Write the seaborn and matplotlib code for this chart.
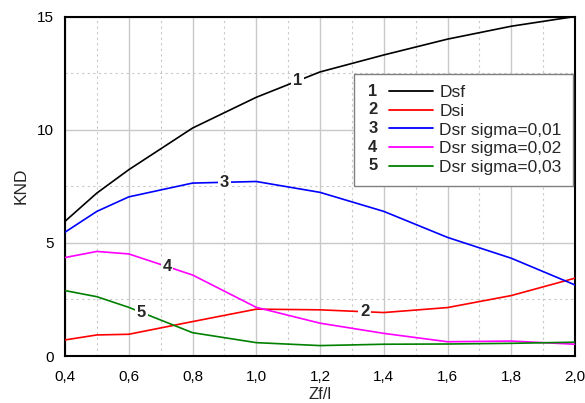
import matplotlib
matplotlib.use("Agg")
import matplotlib.pyplot as plt
from matplotlib.lines import Line2D
from matplotlib.text import Text
from matplotlib.legend_handler import HandlerLine2D
from matplotlib.ticker import MultipleLocator, FuncFormatter
import seaborn as sns
import pandas as pd
import numpy as np

# ---- data ----
x_values = [0.4, 0.5, 0.6, 0.8, 1.0, 1.2, 1.4, 1.6, 1.8, 2.0]
dsf = [5.95, 7.2, 8.23, 10.07, 11.43, 12.55, 13.3, 14.0, 14.57, 15.0]
dsi = [0.71, 0.93, 0.96, 1.52, 2.07, 2.04, 1.92, 2.14, 2.67, 3.44]
dsr_001 = [5.47, 6.39, 7.03, 7.64, 7.71, 7.23, 6.39, 5.24, 4.32, 3.14]
dsr_002 = [4.35, 4.62, 4.51, 3.58, 2.15, 1.45, 1.0, 0.63, 0.66, 0.52]
dsr_003 = [2.89, 2.62, 2.15, 1.03, 0.59, 0.46, 0.52, 0.53, 0.56, 0.61]

series_names = ["Dsf", "Dsi", "Dsr sigma=0,01", "Dsr sigma=0,02", "Dsr sigma=0,03"]
series_numbers = ["1", "2", "3", "4", "5"]
series_colors = ["#000000", "#ff0000", "#0000ff", "#ff00ff", "#008000"]
label_x = [1.13, 1.34, 0.90, 0.72, 0.64]

x_label = "Zf/l"
y_label = "KND"

all_series = [dsf, dsi, dsr_001, dsr_002, dsr_003]
rows = []
for name, ys in zip(series_names, all_series):
    for xv, yv in zip(x_values, ys):
        rows.append({"x": xv, "y": yv, "series": name})
df = pd.DataFrame(rows)

sns.set_style("white")
plt.rcParams["font.family"] = ["Liberation Sans", "DejaVu Sans"]

fig = plt.figure(figsize=(5.85, 4.03), dpi=100)
ax = fig.add_axes([65 / 585, 47 / 403, 510 / 585, 339.5 / 403])

palette = dict(zip(series_names, series_colors))
sns.lineplot(data=df, x="x", y="y", hue="series", palette=palette,
             hue_order=series_names, sort=False, legend=False,
             linewidth=1.2, ax=ax, zorder=3)

ax.set_xlim(0.4, 2.0)
ax.set_ylim(0, 15)
ax.xaxis.set_major_locator(MultipleLocator(0.2))
ax.xaxis.set_minor_locator(MultipleLocator(0.1))
ax.yaxis.set_major_locator(MultipleLocator(5))
ax.yaxis.set_minor_locator(MultipleLocator(2.5))
ax.xaxis.set_major_formatter(FuncFormatter(lambda v, p: f"{v:.1f}".replace(".", ",")))
ax.yaxis.set_major_formatter(FuncFormatter(lambda v, p: f"{v:.0f}"))

ax.grid(which="major", color="#c8c8c8", linewidth=1.0, linestyle="-", zorder=0)
ax.grid(which="minor", color="#c8c8c8", linewidth=0.8, linestyle=(0, (2, 3)), zorder=0)
ax.set_axisbelow(True)

for s in ax.spines.values():
    s.set_visible(True)
    s.set_color("black")
    s.set_linewidth(1.5)

ax.tick_params(axis="both", which="major", direction="out", length=5, width=1.3,
               labelsize=11, colors="black", pad=3)
ax.tick_params(axis="both", which="minor", direction="out", length=4, width=1.1)
ax.tick_params(axis="x", pad=5)

ax.set_xlabel(x_label, fontsize=12, labelpad=2)
ax.set_ylabel(y_label, fontsize=12.5, labelpad=6)

# inline labels
for num, ys, lx in zip(series_numbers, all_series, label_x):
    ly = float(np.interp(lx, x_values, ys))
    ax.text(lx, ly, num, fontsize=12, fontweight="bold", ha="center", va="center",
            zorder=5, bbox=dict(facecolor="white", edgecolor="none", pad=1.2))


class NumHandler(HandlerLine2D):
    def __init__(self, num, **kw):
        super().__init__(**kw)
        self.num = num

    def create_artists(self, legend, orig_handle, xdescent, ydescent, width,
                       height, fontsize, trans):
        yc = height / 2.0 - ydescent
        x0 = -xdescent
        line = Line2D([x0 + width * 0.34, x0 + width], [yc, yc],
                      color=orig_handle.get_color(), linewidth=1.3)
        line.set_transform(trans)
        t = Text(x0 + width * 0.04, yc, self.num, fontsize=fontsize * 0.95,
                 fontweight="bold", ha="left", va="center",
                 fontfamily=["Liberation Sans", "DejaVu Sans"])
        t.set_transform(trans)
        return [t, line]


handles = [Line2D([], [], color=c) for c in series_colors]
handler_map = {h: NumHandler(n) for h, n in zip(handles, series_numbers)}
leg = ax.legend(handles, series_names, handler_map=handler_map,
                loc="upper right", bbox_to_anchor=(0.996, 0.831),
                borderaxespad=0, fontsize=12.5, handlelength=3.9,
                handletextpad=0.35, labelspacing=0.2, borderpad=0.65,
                fancybox=False, frameon=True, edgecolor="#808080",
                framealpha=1)
leg.get_frame().set_linewidth(1.0)
leg.set_zorder(6)

fig.savefig("out.png", dpi=100)
